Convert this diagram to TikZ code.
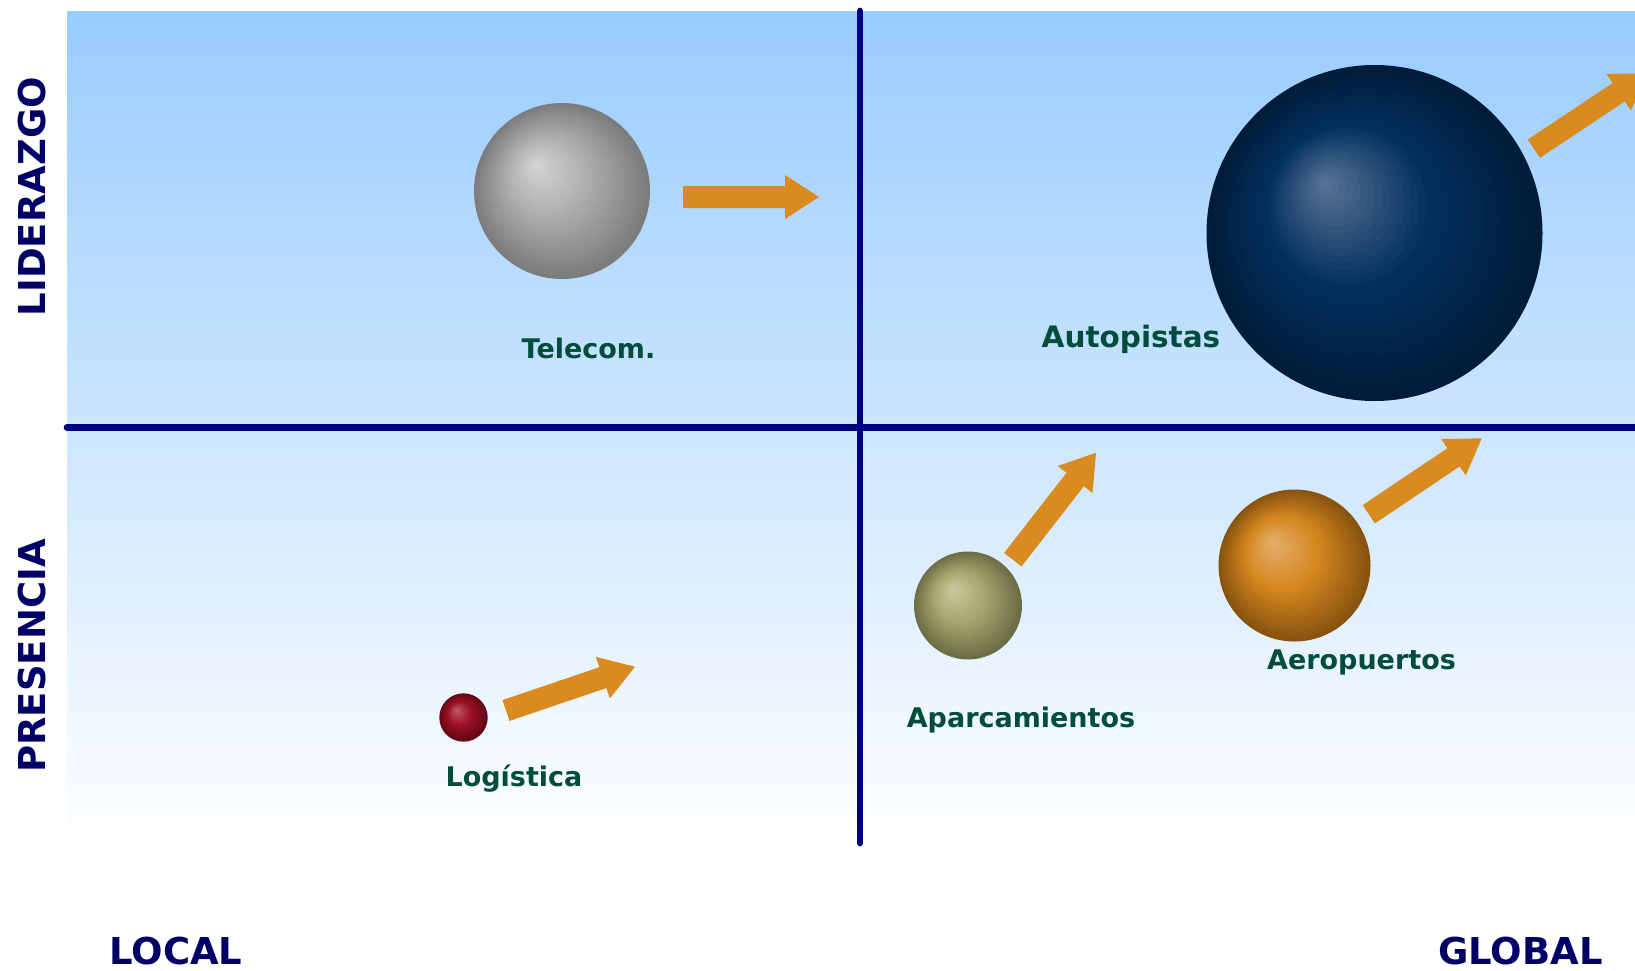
\documentclass[tikz,border=0pt]{standalone}
\usepackage{fontspec}
\setmainfont{DejaVu Sans}
\usetikzlibrary{calc}

\definecolor{skyblue}{HTML}{99CCFF}
\definecolor{axisnavy}{HTML}{000080}
\definecolor{labelnavy}{HTML}{000066}
\definecolor{labelgreen}{HTML}{004D3D}
\definecolor{arroworange}{HTML}{D98B1F}
% sphere palettes: edge, body, highlight
\definecolor{greyedge}{HTML}{7C7C7C}
\definecolor{greymid}{HTML}{ABABAB}
\definecolor{greyhi}{HTML}{D6D6D6}
\definecolor{navyedge}{HTML}{001C38}
\definecolor{navymid}{HTML}{01305F}
\definecolor{navyhi}{HTML}{5B7696}
\definecolor{oliveedge}{HTML}{6C6C46}
\definecolor{olivemid}{HTML}{A6A56C}
\definecolor{olivehi}{HTML}{CDCBA0}
\definecolor{amberedge}{HTML}{88530F}
\definecolor{ambermid}{HTML}{D4861E}
\definecolor{amberhi}{HTML}{E5B170}
\definecolor{redball}{HTML}{9E1024}
\definecolor{rededge}{HTML}{620816}
\definecolor{redhi}{HTML}{C2606E}

\tikzset{
  ballnode/.style={circle, inner sep=0pt, draw=none},
  itemlabel/.style={font=\bfseries\fontsize{27}{27}\selectfont, text=labelgreen, anchor=base, inner sep=0pt},
  axislabel/.style={font=\bfseries\fontsize{37}{37}\selectfont, text=labelnavy, anchor=base, inner sep=0pt, text depth=0pt},
  axisline/.style={draw=axisnavy, line width=6.7pt, line cap=round},
}

% concentric bands shrinking toward an upper-left highlight
\newcommand{\drawsphere}[5]{%
  \foreach \bandi in {0,...,30}{%
    \pgfmathsetmacro{\bandt}{\bandi/30}%
    \pgfmathsetmacro{\bandr}{#2*(1-\bandt)}%
    \pgfmathsetmacro{\bandoff}{-0.3*#2*\bandt}%
    \ifdim\bandt pt<0.5pt
      \pgfmathsetmacro{\bandpc}{\bandt*200}%
      \colorlet{bandcol}{#4!\bandpc!#3}%
    \else
      \pgfmathsetmacro{\bandpc}{(\bandt-0.5)*200}%
      \colorlet{bandcol}{#5!\bandpc!#4}%
    \fi
    \fill[bandcol] ($(#1.center)+(\bandoff,\bandoff)$) circle[radius=\bandr pt];
  }%
}

% block arrow from a tail point to a tip point
\newcommand{\blockarrow}[2]{%
  \coordinate (headbase) at ($(#2)!34pt!(#1)$);
  \fill[arroworange] ($(#1)!11pt!90:(#2)$) -- ($(headbase)!11pt!90:(#2)$)
    -- ($(headbase)!22pt!90:(#2)$) -- (#2) -- ($(headbase)!22pt!-90:(#2)$)
    -- ($(headbase)!11pt!-90:(#2)$) -- ($(#1)!11pt!-90:(#2)$) -- cycle;
}

\begin{document}
\begin{tikzpicture}[x=1pt, y=-1pt]
  \useasboundingbox (0,0) rectangle (1635,970);
  \clip (0,0) rectangle (1635,970);

  % backdrop
  \shade[top color=skyblue, bottom color=white] (67,11) rectangle (1635,848);

  % quadrant axes
  \coordinate (vtop) at (860,11);
  \coordinate (vbot) at (860,843);
  \coordinate (hleft) at (67,427.3);
  \coordinate (hright) at (1640,427.3);
  \draw[axisline] (vtop) -- (vbot);
  \draw[axisline] (hleft) -- (hright);

  % spheres
  \node[ballnode, minimum size=176pt] (telecom) at (562,191) {};
  \drawsphere{telecom}{88}{greyedge}{greymid}{greyhi}
  \node[ballnode, minimum size=336pt] (autopistas) at (1374.5,233) {};
  \drawsphere{autopistas}{168}{navyedge}{navymid}{navyhi}
  \node[ballnode, minimum size=108pt] (aparcamientos) at (968,605.5) {};
  \drawsphere{aparcamientos}{54}{oliveedge}{olivemid}{olivehi}
  \node[ballnode, minimum size=152pt] (aeropuertos) at (1294.5,565.5) {};
  \drawsphere{aeropuertos}{76}{amberedge}{ambermid}{amberhi}
  \node[ballnode, minimum size=48.4pt] (logistica) at (463.5,717.5) {};
  \drawsphere{logistica}{24.2}{rededge}{redball}{redhi}

  % growth arrows
  \coordinate (telecomtail) at (683,197);
  \coordinate (telecomtip) at (819,197);
  \blockarrow{telecomtail}{telecomtip}
  \coordinate (autotail) at (1533.8,148.7);
  \coordinate (autotip) at (1647,73.4);
  \blockarrow{autotail}{autotip}
  \coordinate (apartail) at (1012.8,559.7);
  \coordinate (apartip) at (1096,452.7);
  \blockarrow{apartail}{apartip}
  \coordinate (aerotail) at (1368.8,514.3);
  \coordinate (aerotip) at (1481.7,438.3);
  \blockarrow{aerotail}{aerotip}
  \coordinate (logtail) at (506,710.5);
  \coordinate (logtip) at (635,666.7);
  \blockarrow{logtail}{logtip}

  % business labels
  \node[itemlabel] (telecomlabel) at (588.5,358) {Telecom.};
  \node[itemlabel, font=\bfseries\fontsize{29.5}{29.5}\selectfont] (autolabel) at (1131,347.3) {Autopistas};
  \node[itemlabel] (aparlabel) at (1021,727) {Aparcamientos};
  \node[itemlabel] (aerolabel) at (1361.5,669) {Aeropuertos};
  \node[itemlabel] (loglabel) at (514,786) {Logística};

  % axis captions
  \node[axislabel, rotate=90] (lider) at (45,196.5) {LIDERAZGO};
  \node[axislabel, rotate=90] (presencia) at (45,656) {PRESENCIA};
  \node[axislabel] (local) at (176,964) {LOCAL};
  \node[axislabel] (global) at (1520.5,964) {GLOBAL};
\end{tikzpicture}
\end{document}
